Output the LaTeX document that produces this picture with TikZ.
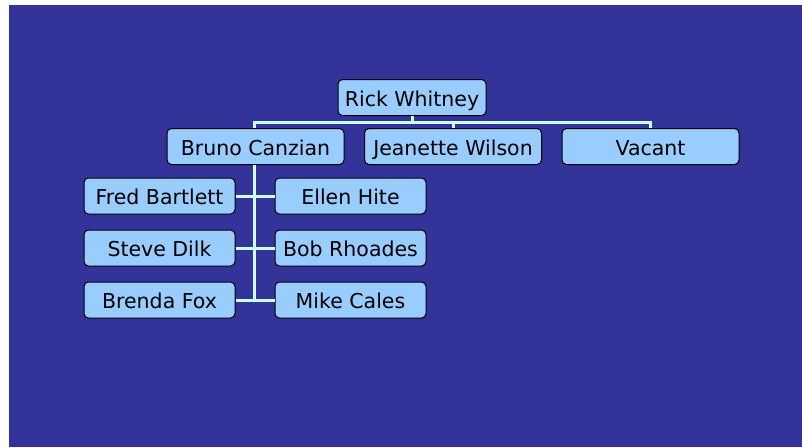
\documentclass[tikz,border=0pt]{standalone}
\usepackage{fontspec}
\setmainfont{DejaVu Sans}
\definecolor{bgblue}{RGB}{51,51,153}
\definecolor{boxfill}{RGB}{153,204,255}
\definecolor{linecol}{RGB}{204,255,255}
\begin{document}
\begin{tikzpicture}[x=1pt,y=-1pt,
  person/.style={draw=black, line width=1pt, fill=boxfill, rounded corners=4.5pt,
    minimum height=36pt, inner sep=0pt, text height=17.5pt, text depth=0.5pt,
    font=\fontsize{20.5}{24}\selectfont, text=black},
  small/.style={person, minimum width=151pt},
  wide/.style={person, minimum width=177pt},
  top/.style={person, minimum width=148pt},
  conn/.style={draw=linecol, line width=3pt}]
  \useasboundingbox (0,0) rectangle (802,447);
  \fill[white] (0,0) rectangle (802,447);
  \fill[bgblue] (9,5) rectangle (802,447);
  % nodes
  \node[top]   (rick)     at (412,97.5)  {Rick Whitney};
  \node[wide]  (bruno)    at (255.5,146.5) {Bruno Canzian};
  \node[wide]  (jeanette) at (453,146.5) {Jeanette Wilson};
  \node[wide]  (vacant)   at (650.5,146.5) {Vacant};
  \node[small] (fred)     at (159.5,196) {Fred Bartlett};
  \node[small] (ellen)    at (350.5,196) {Ellen Hite};
  \node[small] (steve)    at (159.5,248) {Steve Dilk};
  \node[small] (bob)      at (350.5,248) {Bob Rhoades};
  \node[small] (brenda)   at (159.5,300) {Brenda Fox};
  \node[small] (mike)     at (350.5,300) {Mike Cales};
  % connectors
  \coordinate (bus) at (412,122);
  \draw[conn] (rick.south) -- (bus);
  \draw[conn] (bruno.north -| 254,0) |- (bus) -| (vacant.north);
  \draw[conn] (bus -| jeanette.north) -- (jeanette.north);
  \draw[conn] (bruno.south -| 254,0) -- (254,300);
  \draw[conn] (fred.east) -- (ellen.west);
  \draw[conn] (steve.east) -- (bob.west);
  \draw[conn] (brenda.east) -- (mike.west);
\end{tikzpicture}
\end{document}
